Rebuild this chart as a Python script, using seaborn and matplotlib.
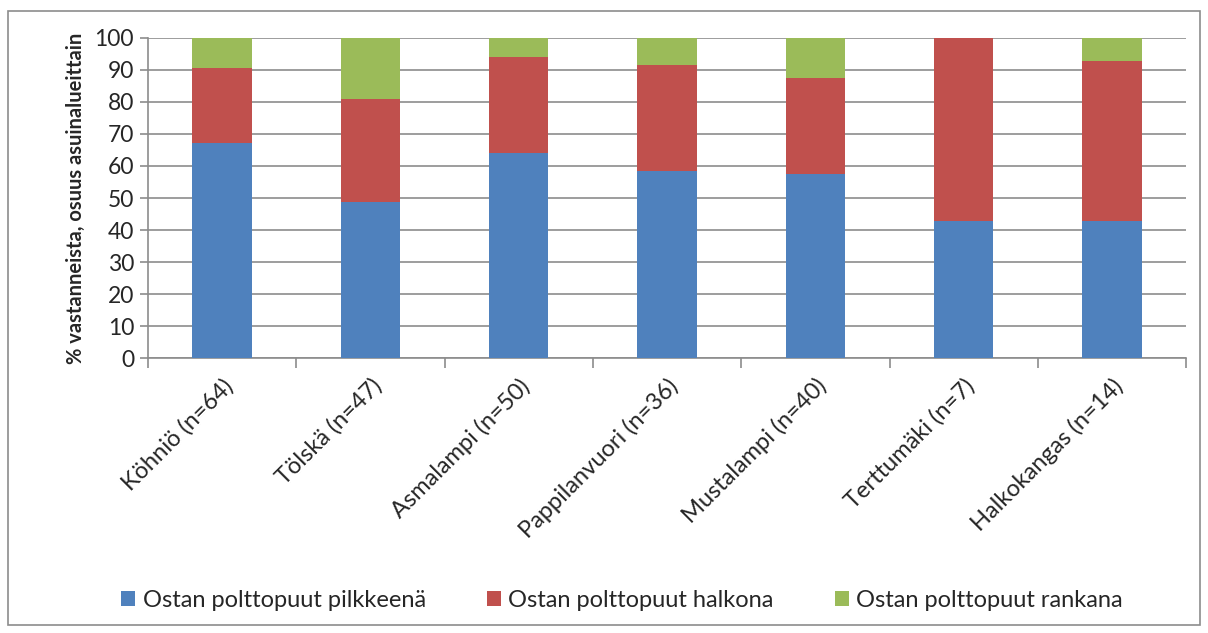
import matplotlib.pyplot as plt
import numpy as np
import pandas as pd
import seaborn as sns
from matplotlib.patches import Patch, Rectangle

# Osuudet (%) asuinalueittain
AREAS = [
    "Köhniö (n=64)",
    "Tölskä (n=47)",
    "Asmalampi (n=50)",
    "Pappilanvuori (n=36)",
    "Mustalampi (n=40)",
    "Terttumäki (n=7)",
    "Halkokangas (n=14)",
]
PILKKEENA = [67.2, 48.9, 64.0, 58.3, 57.5, 42.9, 42.9]
HALKONA = [23.4, 31.9, 30.0, 33.3, 30.0, 57.1, 50.0]
RANKANA = [9.4, 19.1, 6.0, 8.3, 12.5, 0.0, 7.1]

SERIES = ["Ostan polttopuut pilkkeenä", "Ostan polttopuut halkona", "Ostan polttopuut rankana"]
COLORS = ["#4f81bd", "#c0504d", "#9bbb59"]

sns.set_style("white")
plt.rcParams["font.family"] = ["Lato", "DejaVu Sans"]

df = pd.DataFrame({"alue": AREAS, "p": PILKKEENA, "h": HALKONA, "r": RANKANA})
df["cum_p"] = df["p"]
df["cum_h"] = df["p"] + df["h"]
df["cum_r"] = df["p"] + df["h"] + df["r"]

fig = plt.figure(figsize=(12.08, 6.33), dpi=100)
ax = fig.add_axes([0.1225, 0.4344, 0.8595, 0.5056])

# pinottu pylväs: piirretään kumulatiiviset summat päällekkäin
for col, color in zip(["cum_r", "cum_h", "cum_p"], COLORS[::-1]):
    sns.barplot(data=df, x="alue", y=col, color=color, width=0.4,
                saturation=1, linewidth=0, ax=ax, zorder=3)

ax.set_ylim(0, 100)
ax.set_yticks(np.arange(0, 101, 10))
ax.set_xlim(-0.5, len(AREAS) - 0.5)
ax.grid(axis="y", color="#8c8c8c", linewidth=1.2, zorder=0)
ax.set_axisbelow(True)
for s in ["top", "right"]:
    ax.spines[s].set_visible(False)
for s in ["left", "bottom"]:
    ax.spines[s].set_color("#8c8c8c")
    ax.spines[s].set_linewidth(1.2)

ax.tick_params(axis="y", labelsize=16.5, length=6, color="#8c8c8c", width=1.2, left=True, pad=4)
ax.set_xticks(range(len(AREAS)))
ax.set_xticklabels(AREAS, rotation=45, ha="right", rotation_mode="anchor", fontsize=17)
ax.tick_params(axis="x", which="major", length=0, pad=12)
ax.set_xticks(np.arange(-0.5, len(AREAS)), minor=True)
ax.tick_params(axis="x", which="minor", length=7, color="#8c8c8c", width=1.2, bottom=True)

ax.set_xlabel("")
ax.set_ylabel("% vastanneista, osuus asuinalueittain", fontsize=14.5, fontweight="bold", labelpad=6)

handles = [Patch(facecolor=c, edgecolor="none") for c in COLORS]
fig.legend(handles, SERIES, loc="center", bbox_to_anchor=(0.515, 0.052), ncol=3,
           frameon=False, fontsize=17, handlelength=0.6, handleheight=0.6,
           handletextpad=0.3, columnspacing=2.6)

fig.patches.append(Rectangle((0.007, 0.013), 0.986, 0.97, transform=fig.transFigure,
                             fill=False, edgecolor="#8c8c8c", linewidth=1.2))

fig.savefig("out.png", dpi=100, facecolor="white")
